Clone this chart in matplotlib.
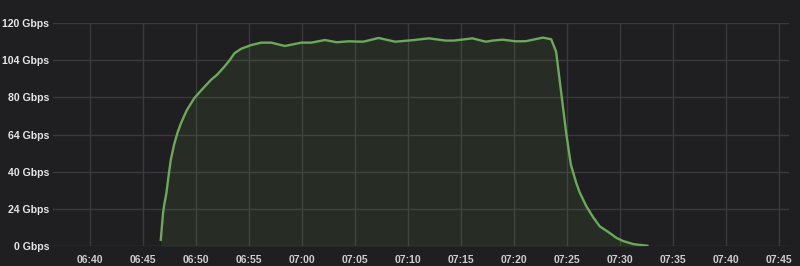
import matplotlib
matplotlib.use("Agg")
import matplotlib.pyplot as plt
import matplotlib.dates as mdates
import pandas as pd

# --- data -------------------------------------------------------------
times = ["06:46:43", "06:46:56", "06:47:03", "06:47:15", "06:47:27", "06:47:40",
         "06:47:58", "06:48:17", "06:48:37",
         "06:49:10", "06:49:52", "06:50:30", "06:51:27", "06:52:01", "06:52:43",
         "06:53:10", "06:53:40", "06:54:18", "06:55:15", "06:56:12", "06:57:09",
         "06:58:25", "06:59:59", "07:00:56", "07:02:12", "07:03:19", "07:04:25",
         "07:05:50", "07:07:16", "07:08:50", "07:10:26", "07:12:01", "07:13:35",
         "07:14:23", "07:16:07", "07:17:23", "07:18:01", "07:18:58", "07:20:14",
         "07:21:11", "07:22:46", "07:23:33", "07:24:01", "07:24:58", "07:25:17",
         "07:25:25", "07:25:55", "07:26:14", "07:26:52", "07:27:30", "07:28:08",
         "07:28:56", "07:29:43", "07:30:21", "07:31:18", "07:31:58", "07:32:38"]
values = [3.5, 17.9, 22.5, 28.6, 37.7, 46.5,
          54.4, 60.8, 66.0,
          73.0, 79.4, 83.5, 89.3, 92.0, 96.4,
          99.5, 103.6, 106.0, 108.0, 109.3, 109.3,
          107.5, 109.3, 109.3, 110.7, 109.5, 110.0,
          109.8, 111.8, 109.8, 110.6, 111.6, 110.4,
          110.4, 111.6, 109.8, 110.4, 110.9, 110.0,
          110.1, 112.0, 111.1, 104.4, 60.8, 48.5,
          43.6, 34.0, 29.0, 21.5, 15.7, 10.7,
          7.7, 4.5, 2.8, 1.2, 0.7, 0.3]
ytick_pos = [0, 20, 40, 60, 80, 100, 120]
ytick_labels = ["0 Gbps", "24 Gbps", "40 Gbps", "64 Gbps", "80 Gbps", "104 Gbps", "120 Gbps"]
x_start, x_end = "06:36:35", "07:45:59"

# --- plot -------------------------------------------------------------
plt.rcParams['font.family'] = ['Liberation Sans', 'DejaVu Sans']
bg = "#1f1e20"
t = pd.to_datetime(["2020-01-01 " + s for s in times])
fig = plt.figure(figsize=(8, 2.66), dpi=100, facecolor=bg)
ax = fig.add_axes([0.0667, 0.074, 0.9195, 0.8407], facecolor=bg)

ax.fill_between(t, values, 0, color="#629e51", alpha=0.12, linewidth=0)
ax.plot(t, values, color="#6aaa58", linewidth=1.7, solid_joinstyle="round")

ax.set_xlim(pd.Timestamp("2020-01-01 " + x_start), pd.Timestamp("2020-01-01 " + x_end))
ax.set_ylim(0, 120)
ax.set_yticks(ytick_pos)
ax.set_yticklabels(ytick_labels)
ax.xaxis.set_major_locator(mdates.MinuteLocator(byminute=range(0, 60, 5)))
ax.xaxis.set_major_formatter(mdates.DateFormatter("%H:%M"))

ax.grid(True, color="#3a3a3b", linewidth=1)
ax.set_axisbelow(True)
for s in ax.spines.values():
    s.set_visible(False)
ax.tick_params(axis="both", length=0)
ax.tick_params(axis="y", colors="#e6e6e6", labelsize=7.6, pad=3)
ax.tick_params(axis="x", colors="#cfcfcf", labelsize=7.5, pad=6)
for lab in ax.get_yticklabels() + ax.get_xticklabels():
    lab.set_fontweight("bold")

fig.savefig("out.png", dpi=100, facecolor=bg)
